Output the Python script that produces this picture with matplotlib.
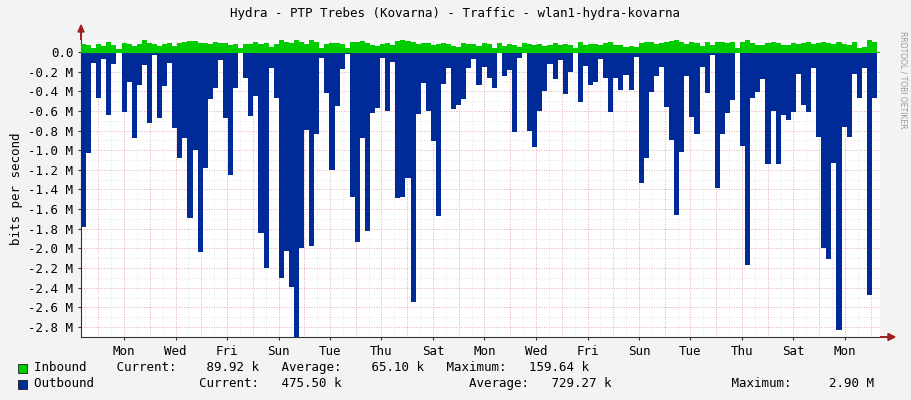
import matplotlib
matplotlib.use("Agg")
import matplotlib.pyplot as plt
import numpy as np

title = "Hydra - PTP Trebes (Kovarna) - Traffic - wlan1-hydra-kovarna"
day_labels = ["Mon", "Wed", "Fri", "Sun", "Tue", "Thu", "Sat", "Mon", "Wed", "Fri", "Sun", "Tue", "Thu", "Sat", "Mon"]
day_pos = [0, 2, 4, 6, 8, 10, 12, 14, 16, 18, 20, 22, 24, 26, 28]

# outbound traffic, Mbit/s (drawn negative)
outbound = [1.78, 1.03, 0.11, 0.47, 0.07, 0.64, 0.12, 0.0, 0.61, 0.31, 0.88, 0.34, 0.13, 0.72, 0.03,
            0.67, 0.35, 0.11, 0.77, 1.08, 0.88, 1.69, 1.0, 2.04, 1.18, 0.48, 0.37, 0.08, 0.67, 1.25,
            0.37, 0.0, 0.26, 0.65, 0.45, 1.84, 2.2, 0.16, 0.47, 2.3, 2.03, 2.39, 2.9, 2.0, 0.79,
            1.98, 0.84, 0.06, 0.42, 1.2, 0.55, 0.17, 0.02, 1.48, 1.93, 0.88, 1.82, 0.62, 0.57, 0.06,
            0.6, 0.1, 1.49, 1.48, 1.28, 2.55, 0.63, 0.32, 0.6, 0.91, 1.67, 0.33, 0.16, 0.58, 0.54,
            0.48, 0.16, 0.07, 0.34, 0.15, 0.26, 0.37, 0.01, 0.24, 0.18, 0.81, 0.06, 0.0, 0.8, 0.97,
            0.6, 0.4, 0.12, 0.28, 0.08, 0.43, 0.2, 0.0, 0.51, 0.14, 0.34, 0.31, 0.07, 0.26, 0.61,
            0.26, 0.39, 0.23, 0.39, 0.05, 1.33, 1.08, 0.41, 0.24, 0.15, 0.56, 0.9, 1.66, 1.02, 0.24,
            0.66, 0.83, 0.15, 0.42, 0.03, 1.38, 0.83, 0.62, 0.49, 0.01, 0.96, 2.17, 0.47, 0.41, 0.28,
            1.14, 0.6, 1.14, 0.64, 0.69, 0.61, 0.22, 0.54, 0.61, 0.16, 0.87, 2.0, 2.11, 1.13, 2.83,
            0.76, 0.87, 0.22, 0.47, 0.16, 2.47, 0.47]

# inbound traffic, Mbit/s
inbound = [0.08, 0.07, 0.04, 0.08, 0.06, 0.1, 0.07, 0.03, 0.09, 0.08, 0.06, 0.08, 0.13, 0.09, 0.08,
           0.06, 0.08, 0.09, 0.06, 0.09, 0.1, 0.11, 0.11, 0.09, 0.09, 0.08, 0.1, 0.09, 0.09, 0.07,
           0.08, 0.04, 0.08, 0.08, 0.1, 0.08, 0.09, 0.05, 0.08, 0.12, 0.1, 0.09, 0.13, 0.1, 0.08,
           0.14, 0.1, 0.04, 0.08, 0.09, 0.09, 0.08, 0.04, 0.1, 0.1, 0.11, 0.09, 0.07, 0.06, 0.08,
           0.09, 0.07, 0.11, 0.12, 0.11, 0.1, 0.08, 0.09, 0.09, 0.07, 0.08, 0.09, 0.08, 0.06, 0.05,
           0.09, 0.08, 0.08, 0.06, 0.09, 0.08, 0.04, 0.09, 0.06, 0.08, 0.07, 0.05, 0.09, 0.08, 0.07,
           0.08, 0.06, 0.07, 0.09, 0.07, 0.08, 0.07, 0.04, 0.1, 0.07, 0.08, 0.08, 0.07, 0.09, 0.1,
           0.07, 0.07, 0.05, 0.06, 0.05, 0.09, 0.1, 0.1, 0.08, 0.09, 0.1, 0.11, 0.12, 0.1, 0.08,
           0.1, 0.09, 0.06, 0.1, 0.07, 0.1, 0.1, 0.09, 0.1, 0.04, 0.1, 0.16, 0.09, 0.07, 0.07,
           0.09, 0.1, 0.09, 0.07, 0.07, 0.09, 0.08, 0.09, 0.1, 0.08, 0.09, 0.1, 0.09, 0.08, 0.1,
           0.08, 0.07, 0.1, 0.04, 0.05, 0.12, 0.1]

yticks = [0.0, -0.2, -0.4, -0.6, -0.8, -1.0, -1.2, -1.4, -1.6, -1.8, -2.0, -2.2, -2.4, -2.6, -2.8]
ytick_labels = ["0.0"] + ["%.1f M" % v for v in yticks[1:]]

W, H = 911, 400
fig = plt.figure(figsize=(W / 100, H / 100), dpi=100, facecolor="#F3F3F3")
L, R, T, B = 81, 880, 40, 337
ax = fig.add_axes([L / W, 1 - B / H, (R - L) / W, (B - T) / H])
ax.set_facecolor("white")

x0 = (L - 124) / 25.75
x1 = (877 - 124) / 25.75
n = len(outbound)
w = (x1 - x0) / n
xs = x0 + np.arange(n) * w
ax.bar(xs, -np.array(outbound), width=w, align="edge", color="#002A97", linewidth=0, zorder=3)
ax.bar(xs, np.array(inbound[:n]), width=w, align="edge", color="#00CC00", linewidth=0, zorder=3)

ax.set_xlim(x0, (R - 124) / 25.75)
ax.set_ylim(-(B - 52) / 98.2, (52 - T) / 98.2)

# grid
for v in np.arange(-2.9, 0.15, 0.1):
    ax.axhline(v, color="#DDDDDD", lw=0.6, ls=(0, (1, 2)), zorder=1)
for v in yticks:
    ax.axhline(v, color="#E8A0A0", lw=0.6, ls=(0, (1, 2)), zorder=1)
for d in np.arange(-1.5, 29.5, 0.5):
    ax.axvline(d, color="#DDDDDD", lw=0.6, ls=(0, (1, 2)), zorder=1)
for d in range(-1, 30):
    ax.axvline(d, color="#E8A0A0", lw=0.6, ls=(0, (1, 2)), zorder=1)
ax.axhline(0, color="#00CC00", lw=0.8, zorder=4)

ax.set_xticks(day_pos)
ax.set_xticklabels(day_labels)
ax.set_yticks(yticks)
ax.set_yticklabels(ytick_labels)
for s in ["top", "right"]:
    ax.spines[s].set_visible(False)
for s in ["left", "bottom"]:
    ax.spines[s].set_color("#333333")
    ax.spines[s].set_linewidth(0.8)
ax.tick_params(axis="both", length=2, labelsize=9, colors="#333333", labelcolor="black")
for lab in ax.get_xticklabels() + ax.get_yticklabels():
    lab.set_fontfamily("DejaVu Sans Mono")
ax.set_ylabel("bits per second", fontfamily="DejaVu Sans Mono", fontsize=9)

# arrows
fig.patches.append(matplotlib.patches.FancyArrow(R / W, 1 - B / H, 8 / W, 0, width=0, head_width=7 / H,
                                                 head_length=7 / W, color="#A02020", transform=fig.transFigure))
fig.patches.append(matplotlib.patches.FancyArrow(L / W, 1 - T / H, 0, 8 / H, width=0, head_width=6 / W,
                                                 head_length=7 / H, color="#A02020", transform=fig.transFigure))

mono = dict(fontfamily="DejaVu Sans Mono", fontsize=9)
fig.text(455 / W, 1 - 14 / H, title, ha="center", va="center", **mono)
fig.text(903 / W, 1 - 80 / H, "RRDTOOL / TOBI OETIKER", rotation=270, ha="center", va="center",
         fontfamily="DejaVu Sans", fontsize=5.5, color="#999999")

for yy, col, txt in [(368, "#00CC00", "Inbound    Current:    89.92 k   Average:    65.10 k   Maximum:   159.64 k"),
                     (384, "#002A97", "Outbound              Current:   475.50 k                 Average:   729.27 k                Maximum:     2.90 M")]:
    fig.patches.append(matplotlib.patches.Rectangle((18 / W, 1 - (yy + 5) / H), 9 / W, 9 / H, facecolor=col,
                                                    edgecolor="black", lw=0.5, transform=fig.transFigure))
    fig.text(34 / W, 1 - yy / H, txt, ha="left", va="center", **mono)

fig.savefig("out.png", dpi=100, facecolor=fig.get_facecolor())
